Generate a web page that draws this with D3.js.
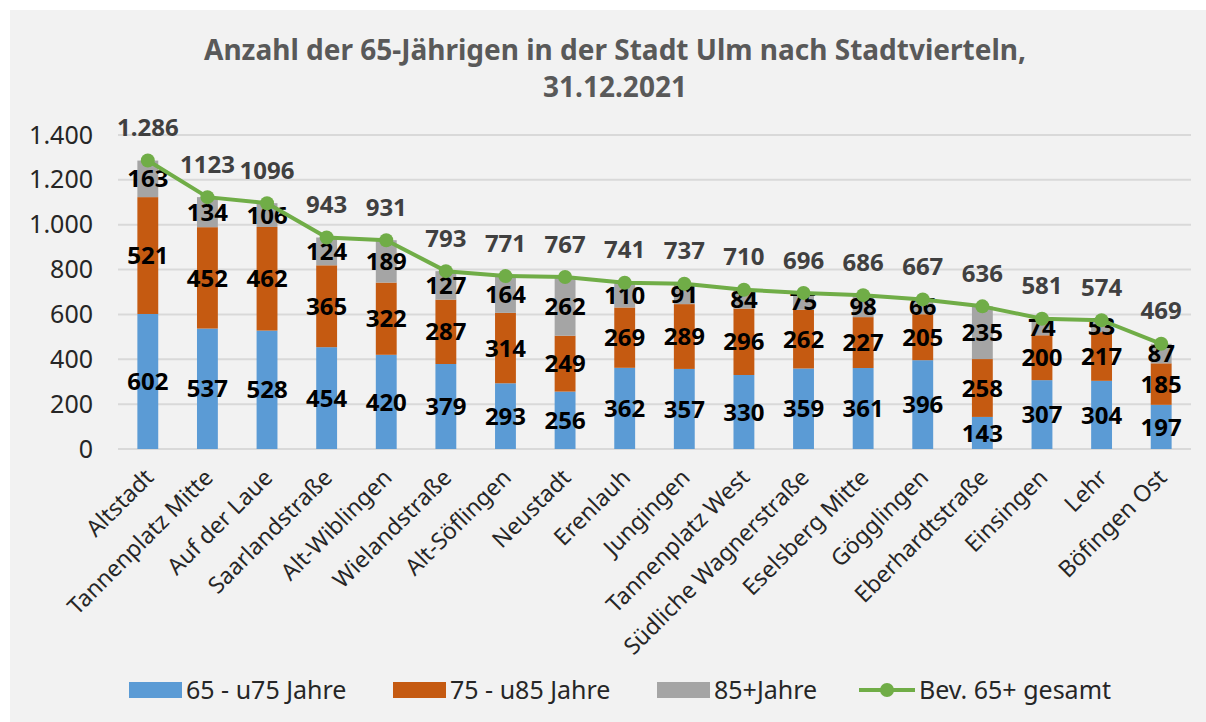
<!DOCTYPE html>
<html>
<head>
<meta charset="utf-8">
<script src="https://cdn.jsdelivr.net/npm/d3@7"></script>
<style>
  body { margin: 0; background: #ffffff; }
  svg { font-family: "Noto Sans", "Open Sans", sans-serif; }
</style>
</head>
<body>
<div id="chart"></div>
<script>
// districts in chart order
const categories = ['Altstadt', 'Tannenplatz Mitte', 'Auf der Laue', 'Saarlandstraße', 'Alt-Wiblingen',
    'Wielandstraße', 'Alt-Söflingen', 'Neustadt', 'Erenlauh', 'Jungingen', 'Tannenplatz West',
    'Südliche Wagnerstraße', 'Eselsberg Mitte', 'Gögglingen', 'Eberhardtstraße', 'Einsingen', 'Lehr', 'Böfingen Ost'];
const age65to75 = [602, 537, 528, 454, 420, 379, 293, 256, 362, 357, 330, 359, 361, 396, 143, 307, 304, 197];
const age75to85 = [521, 452, 462, 365, 322, 287, 314, 249, 269, 289, 296, 262, 227, 205, 258, 200, 217, 185];
const age85plus = [163, 134, 106, 124, 189, 127, 164, 262, 110, 91, 84, 75, 98, 66, 235, 74, 53, 87];
const totals = [1286, 1123, 1096, 943, 931, 793, 771, 767, 741, 737, 710, 696, 686, 667, 636, 581, 574, 469];
const totalLabels = ['1.286', '1123', '1096', '943', '931', '793', '771', '767', '741', '737', '710', '696',
    '686', '667', '636', '581', '574', '469'];
const yTicks = [0, 200, 400, 600, 800, 1000, 1200, 1400];

const seriesNames = ['65 - u75 Jahre', '75 - u85 Jahre', '85+Jahre'];
const seriesColors = ['#5b9bd5', '#c55a11', '#a5a5a5'];
const lineName = 'Bev. 65+ gesamt';
const lineColor = '#70ad47';

const W = 1206, H = 722;
const margin = { top: 135, left: 118, right: 15, bottom: 273 };
const width = W - margin.left - margin.right;
const height = H - margin.top - margin.bottom;

const de = d3.formatLocale({ decimal: ',', thousands: '.', grouping: [3], currency: ['', '€'] });

const svg = d3.select('#chart').append('svg')
    .attr('width', W)
    .attr('height', H);

// chart panel
svg.append('rect')
    .attr('x', 10).attr('y', 10)
    .attr('width', W - 10).attr('height', H - 10)
    .attr('fill', '#f2f2f2');

// title
const title = svg.append('text')
    .attr('text-anchor', 'middle')
    .attr('fill', '#595959')
    .style('font-size', '28px')
    .style('font-weight', 'bold');
title.append('tspan').attr('x', 615).attr('y', 60).text('Anzahl der 65-Jährigen in der Stadt Ulm nach Stadtvierteln,');
title.append('tspan').attr('x', 615).attr('y', 97).text('31.12.2021');

const chart = svg.append('g')
    .attr('transform', `translate(${margin.left}, ${margin.top})`);

const xScale = d3.scaleBand().domain(categories).range([0, width]).paddingInner(0.65).paddingOuter(0.325);
const yScale = d3.scaleLinear().domain([0, 1400]).range([height, 0]);

// gridlines
chart.append('g').attr('class', 'grid')
    .selectAll('line')
    .data(yTicks)
    .enter().append('line')
    .attr('x1', 0).attr('x2', width)
    .attr('y1', d => yScale(d)).attr('y2', d => yScale(d))
    .attr('stroke', '#d9d9d9')
    .attr('stroke-width', 2);

// y axis
const yAxis = chart.append('g').attr('class', 'axis axis-y')
    .call(d3.axisLeft(yScale).tickValues(yTicks).tickFormat(de.format(',d')).tickSize(0).tickPadding(25));
yAxis.select('.domain').remove();
yAxis.selectAll('text')
    .attr('fill', '#262626')
    .style('font-size', '25px')
    .style('font-family', '"Noto Sans", sans-serif');

// x axis
const xAxis = chart.append('g').attr('class', 'axis axis-x')
    .attr('transform', `translate(0, ${height})`)
    .call(d3.axisBottom(xScale).tickSize(0).tickPadding(0));
xAxis.select('.domain').remove();
xAxis.selectAll('text')
    .attr('fill', '#262626')
    .style('font-size', '23px')
    .style('font-family', '"Noto Sans", sans-serif')
    .style('text-anchor', 'end')
    .attr('x', 0).attr('y', 0)
    .attr('dy', '0')
    .attr('transform', 'translate(7, 30) rotate(-45)');

// stacked bars
const rows = categories.map((c, i) => ({ cat: c, s0: age65to75[i], s1: age75to85[i], s2: age85plus[i] }));
const stacked = d3.stack().keys(['s0', 's1', 's2'])(rows);

const layers = chart.selectAll('.layer')
    .data(stacked)
    .enter().append('g')
    .attr('class', 'layer')
    .attr('fill', (d, i) => seriesColors[i]);

layers.selectAll('rect')
    .data(d => d)
    .enter().append('rect')
    .attr('x', d => xScale(d.data.cat))
    .attr('y', d => yScale(d[1]))
    .attr('width', xScale.bandwidth())
    .attr('height', d => yScale(d[0]) - yScale(d[1]));

// total line
const cx = d => xScale(d) + xScale.bandwidth() / 2;
const line = d3.line()
    .x((d, i) => cx(categories[i]))
    .y(d => yScale(d));

chart.append('path')
    .datum(totals)
    .attr('fill', 'none')
    .attr('stroke', lineColor)
    .attr('stroke-width', 4)
    .attr('stroke-linejoin', 'round')
    .attr('d', line);

chart.selectAll('.dot')
    .data(totals)
    .enter().append('circle')
    .attr('class', 'dot')
    .attr('cx', (d, i) => cx(categories[i]))
    .attr('cy', d => yScale(d))
    .attr('r', 7)
    .attr('fill', lineColor);

// segment labels
layers.selectAll('.seg-label')
    .data(d => d.map(v => ({ v, key: d.key })))
    .enter().append('text')
    .attr('class', 'seg-label')
    .attr('x', d => cx(d.v.data.cat))
    .attr('y', d => yScale((d.v[0] + d.v[1]) / 2))
    .attr('dy', '0.36em')
    .attr('text-anchor', 'middle')
    .attr('fill', '#000000')
    .style('font-size', '24px')
    .style('font-weight', 'bold')
    .text(d => d.v.data[d.key]);

// total labels
chart.selectAll('.total-label')
    .data(totals)
    .enter().append('text')
    .attr('class', 'total-label')
    .attr('x', (d, i) => cx(categories[i]))
    .attr('y', d => yScale(d) - 33)
    .attr('dy', '0.36em')
    .attr('text-anchor', 'middle')
    .attr('fill', '#404040')
    .style('font-size', '24px')
    .style('font-weight', 'bold')
    .text((d, i) => totalLabels[i]);

// legend
const legend = svg.append('g').attr('class', 'legend');
const legendX = [129, 393, 657];
seriesNames.forEach((name, i) => {
    legend.append('rect')
        .attr('x', legendX[i]).attr('y', 682)
        .attr('width', 53).attr('height', 16)
        .attr('fill', seriesColors[i]);
    legend.append('text')
        .attr('x', legendX[i] + 57).attr('y', 690)
        .attr('dy', '0.36em')
        .attr('fill', '#262626')
        .style('font-size', '25px')
        .text(name);
});
legend.append('line')
    .attr('x1', 859).attr('x2', 915)
    .attr('y1', 690).attr('y2', 690)
    .attr('stroke', lineColor).attr('stroke-width', 4);
legend.append('circle')
    .attr('cx', 887).attr('cy', 690).attr('r', 7)
    .attr('fill', lineColor);
legend.append('text')
    .attr('x', 919).attr('y', 690)
    .attr('dy', '0.36em')
    .attr('fill', '#262626')
    .style('font-size', '25px')
    .text(lineName);
</script>
</body>
</html>
